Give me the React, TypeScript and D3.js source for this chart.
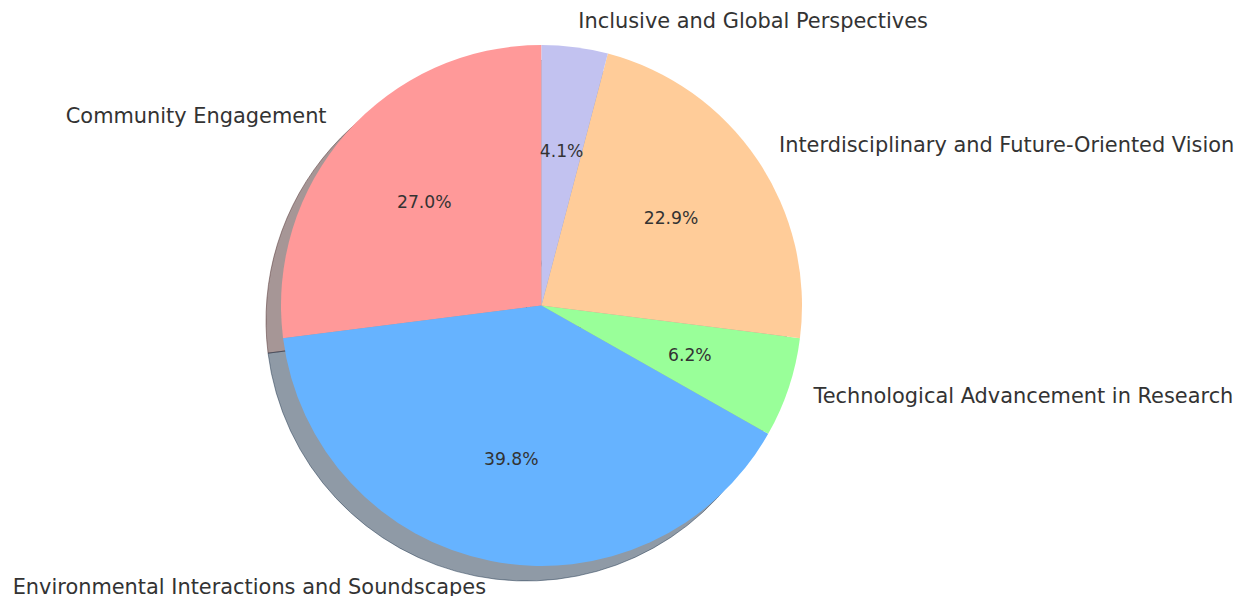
import React from "react";
import * as d3 from "d3";

const categories = [
  "Community Engagement",
  "Environmental Interactions and Soundscapes",
  "Technological Advancement in Research",
  "Interdisciplinary and Future-Oriented Vision",
  "Inclusive and Global Perspectives",
];
const values = [27.0, 39.8, 6.2, 22.9, 4.1];
const colors = ["#ff9999", "#66b3ff", "#99ff99", "#ffcc99", "#c2c2f0"];

const W = 1245;
const H = 596;
const CX = 541.5;
const CY = 305.5;
const R = 260.5;
const SHX = -15;
const SHY = 15;

function shade(c: string) {
  const col = d3.rgb(c);
  return d3.rgb(col.r * 0.3, col.g * 0.3, col.b * 0.3).formatHex();
}

export default function App() {
  const pie = d3
    .pie<number>()
    .sort(null)
    .value((d) => d)
    .startAngle(0)
    .endAngle(-2 * Math.PI);
  const arcs = pie(values);
  const arc = d3.arc<d3.PieArcDatum<number>>().innerRadius(0).outerRadius(R);
  const total = d3.sum(values);

  return (
    <svg
      width={W}
      height={H}
      style={{ position: "absolute", left: 0, top: 0, background: "#fff" }}
      fontFamily="DejaVu Sans, sans-serif"
    >
      <g transform={`translate(${CX + SHX},${CY + SHY})`}>
        {arcs.map((a, i) => (
          <path
            key={"s" + i}
            d={arc(a) || ""}
            fill={shade(colors[i])}
            fillOpacity={0.5}
            stroke={shade(colors[i])}
            strokeOpacity={0.5}
            strokeWidth={1}
          />
        ))}
      </g>
      <g transform={`translate(${CX},${CY})`}>
        {arcs.map((a, i) => (
          <path key={"p" + i} d={arc(a) || ""} fill={colors[i]} />
        ))}
        {arcs.map((a, i) => {
          const mid = (a.startAngle + a.endAngle) / 2;
          const lx = 1.1 * R * Math.sin(mid);
          const ly = -1.1 * R * Math.cos(mid);
          const px = 0.6 * R * Math.sin(mid);
          const py = -0.6 * R * Math.cos(mid);
          return (
            <g key={"t" + i}>
              <text
                x={lx}
                y={ly}
                fontSize={20.9}
                fill="#333333"
                textAnchor={lx > 0 ? "start" : "end"}
                dominantBaseline="central"
              >
                {categories[i]}
              </text>
              <text
                x={px}
                y={py}
                fontSize={17.2}
                fill="#333333"
                textAnchor="middle"
                dominantBaseline="central"
              >
                {((values[i] / total) * 100).toFixed(1) + "%"}
              </text>
            </g>
          );
        })}
      </g>
    </svg>
  );
}
